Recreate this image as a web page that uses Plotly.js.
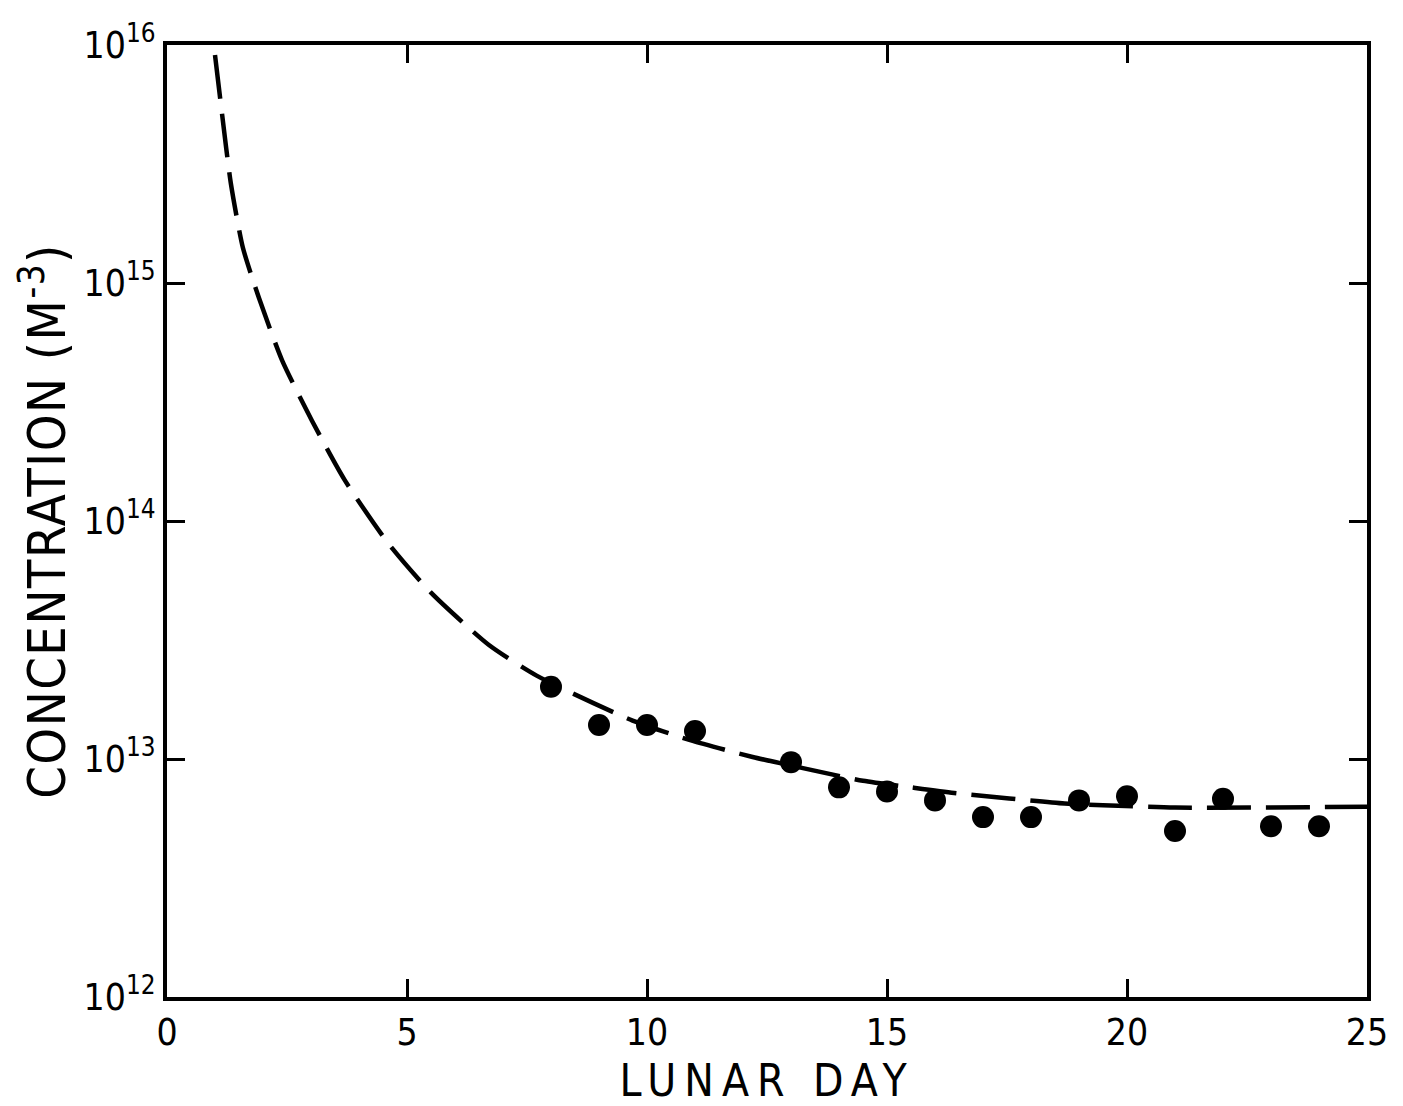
<!DOCTYPE html>
<html>
<head>
<meta charset="utf-8">
<script src="https://cdn.plot.ly/plotly-3.0.1.min.js"></script>
<style>
html,body{margin:0;padding:0;background:#fff;}
#chart{width:1403px;height:1106px;}
.xtitle{letter-spacing:8px;}
.ytitle{letter-spacing:1.5px;}
</style>
</head>
<body>
<div id="chart"></div>
<script>
// Measured points (lunar day, concentration m^-3)
const pointDays = [8, 9, 10, 11, 13, 14, 15, 16, 17, 18, 19, 20, 21, 22, 23, 24];
const pointConc = [2.01e13, 1.39e13, 1.39e13, 1.31e13, 9.7e12, 7.6e12, 7.3e12, 6.7e12, 5.7e12, 5.7e12, 6.7e12, 6.98e12, 4.98e12, 6.8e12, 5.22e12, 5.22e12];

// Dashed fitted curve
const curveDays = [1.0, 1.15, 1.33, 1.58, 1.92, 2.4, 3.02, 3.69, 4.6, 5.5, 6.7, 7.7, 9.7, 10.9, 12.2, 13.2, 14.5, 15.5, 16.4, 18.7, 19.5, 21, 25];
const curveConc = [9.08e15, 5.07e15, 2.62e15, 1.41e15, 8.6e14, 4.72e14, 2.64e14, 1.50e14, 8.1e13, 5.0e13, 3.02e13, 2.24e13, 1.45e13, 1.20e13, 1.02e13, 9.2e12, 8.1e12, 7.6e12, 7.2e12, 6.5e12, 6.4e12, 6.25e12, 6.3e12];

const xTickVals = [0, 5, 10, 15, 20, 25];
const xTickText = ['0', '5', '10', '15', '20', '25'];
const yTickVals = [1e12, 1e13, 1e14, 1e15, 1e16];
const yTickText = ['10<sup>12</sup>', '10<sup>13</sup>', '10<sup>14</sup>', '10<sup>15</sup>', '10<sup>16</sup>'];

const font = 'DejaVu Sans Condensed, DejaVu Sans, Liberation Sans, sans-serif';

const traces = [
  {
    x: curveDays, y: curveConc, type: 'scatter', mode: 'lines',
    line: {color: '#000', width: 4.5, dash: '44px,15px', shape: 'spline', smoothing: 0.6},
    hoverinfo: 'skip'
  },
  {
    x: pointDays, y: pointConc, type: 'scatter', mode: 'markers',
    marker: {color: '#000', size: 22, symbol: 'circle'}
  }
];

const layout = {
  width: 1403, height: 1106,
  paper_bgcolor: '#fff', plot_bgcolor: '#fff',
  showlegend: false,
  margin: {l: 167, r: 36, t: 45, b: 109},
  font: {family: font, color: '#000'},
  xaxis: {
    range: [0, 25], tickvals: xTickVals, ticktext: xTickText,
    ticks: 'inside', ticklen: 18, tickwidth: 3, tickcolor: '#000',
    showline: true, linewidth: 4, linecolor: '#000', mirror: 'ticks',
    showgrid: false, zeroline: false,
    tickfont: {size: 37, family: font},
    title: {text: 'LUNAR DAY', font: {size: 44, family: font}, standoff: 16}
  },
  yaxis: {
    type: 'log', range: [12, 16], tickvals: yTickVals, ticktext: yTickText,
    ticks: 'inside', ticklen: 18, tickwidth: 3, tickcolor: '#000',
    showline: true, linewidth: 4, linecolor: '#000', mirror: 'ticks',
    showgrid: false, zeroline: false,
    tickfont: {size: 37, family: font},
    title: {text: 'CONCENTRATION (M<sup>-3</sup>)', font: {size: 52, family: font}, standoff: 2}
  }
};

Plotly.newPlot('chart', traces, layout, {displayModeBar: false, staticPlot: true});
</script>
</body>
</html>
